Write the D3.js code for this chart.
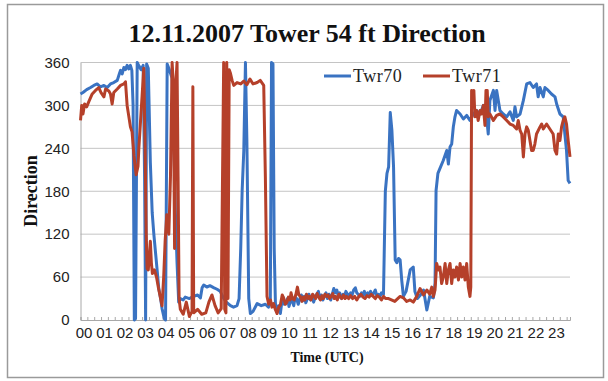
<!DOCTYPE html>
<html>
<head>
<meta charset="utf-8">
<script src="https://cdn.jsdelivr.net/npm/d3@7"></script>
<style>
  html, body { margin: 0; padding: 0; background: #fff; }
  svg { display: block; }
</style>
</head>
<body>
<svg id="chart" width="608" height="381"></svg>
<script>
// Tower 54 ft wind direction, 12 Nov 2007 (hours UTC, degrees)
const twr70Hours = [0.00,0.12,0.30,0.49,0.65,0.81,0.97,1.14,1.30,1.46,1.62,1.79,1.90,1.95,2.03,2.11,2.19,2.27,2.35,2.43,2.50,2.56,2.62,2.68,2.76,2.85,2.95,3.05,3.12,3.17,3.22,3.30,3.40,3.49,3.57,3.65,3.73,3.81,3.90,3.97,4.08,4.14,4.22,4.30,4.38,4.46,4.54,4.62,4.70,4.78,4.86,5.00,5.10,5.30,5.50,5.70,5.84,5.92,6.00,6.15,6.30,6.50,6.65,6.80,6.96,7.10,7.30,7.45,7.62,7.72,7.80,7.87,7.95,8.03,8.10,8.19,8.27,8.40,8.60,8.80,9.00,9.15,9.24,9.30,9.37,9.43,9.49,
  9.57,9.65,9.73,9.80,9.85,9.92,
  10.00,10.08,10.15,10.22,10.30,10.38,10.45,10.52,10.60,10.68,10.75,10.82,10.90,10.97,
  11.05,11.12,11.20,11.28,11.35,11.42,11.50,11.58,11.65,11.72,11.80,11.88,11.95,
  12.02,12.10,12.18,12.25,12.33,12.40,12.48,12.55,12.62,12.70,12.78,12.85,12.92,
  13.00,13.08,13.15,13.22,13.30,13.38,13.45,13.52,13.60,13.68,13.75,13.82,13.90,13.98,
  14.05,14.12,14.20,14.28,14.35,14.42,14.50,14.58,14.65,14.75,
  14.84,14.92,15.00,15.08,15.16,15.24,15.32,15.40,15.48,15.56,15.64,15.72,15.85,16.05,16.20,16.28,16.40,16.55,16.70,16.86,17.00,17.18,17.26,17.31,17.40,17.50,17.66,17.83,17.91,17.99,18.07,18.15,18.23,18.31,18.48,18.64,18.80,18.96,19.12,19.28,19.45,19.61,19.77,19.85,19.93,20.10,20.18,20.26,20.42,20.58,20.75,20.91,21.07,21.15,21.23,21.40,21.56,21.72,21.88,22.04,22.20,22.28,22.37,22.53,22.61,22.77,22.93,23.10,23.18,23.34,23.50,23.58,23.66,23.74,23.83];
const twr70Dir   = [316,318,322,325,328,330,326,328,325,330,332,335,345,349,344,353,350,356,351,356,349,300,0,2,360,355,350,356,200,0,358,352,220,150,120,95,70,44,30,16,2,0,358,352,345,338,260,150,80,25,30,28,32,30,33,35,31,45,49,46,48,45,43,40,31,25,20,18,20,30,100,181,237,360,250,30,9,12,23,20,22,18,25,360,358,100,23,
  12,20,9,25,33,22,
  25,30,19,26,28,20,32,30,22,30,35,27,33,24,
  30,36,28,33,25,31,36,40,30,35,28,34,38,
  30,36,28,35,44,38,42,33,38,30,36,33,40,
  36,33,38,35,42,45,38,36,33,38,35,40,33,38,
  36,40,34,38,42,34,36,33,38,36,
  180,205,214,290,265,214,84,80,86,84,55,33,40,70,74,40,30,35,42,14,33,31,51,181,205,212,223,237,218,242,246,270,284,293,288,281,286,279,288,293,288,300,284,260,307,321,293,321,293,288,284,291,279,298,284,288,307,330,332,325,330,312,325,312,325,321,316,312,302,288,284,260,237,195,191];

const twr71Hours = [0.00,0.06,0.12,0.20,0.30,0.40,0.57,0.73,0.89,1.00,1.14,1.22,1.38,1.46,1.54,1.62,1.79,1.95,2.11,2.19,2.27,2.35,2.43,2.51,2.60,2.71,2.80,2.84,2.92,3.00,3.08,3.14,3.20,3.24,3.30,3.40,3.45,3.50,3.60,3.70,3.80,3.90,3.97,4.05,4.12,4.20,4.30,4.38,4.46,4.52,4.58,4.64,4.70,4.75,4.80,4.86,5.00,5.15,5.30,5.43,5.47,5.51,5.70,5.90,6.10,6.25,6.40,6.55,6.70,6.85,6.97,7.02,7.08,7.12,7.18,7.24,7.30,7.38,7.46,7.62,7.80,7.95,8.10,8.25,8.40,8.60,8.75,8.92,9.00,
  9.08,9.16,9.25,9.32,9.40,9.48,9.57,9.65,9.73,9.82,9.90,9.98,
  10.05,10.12,10.20,10.25,10.32,10.40,10.48,10.56,10.63,10.70,10.78,10.85,10.92,
  11.00,11.08,11.15,11.22,11.30,11.38,11.45,11.52,11.60,11.68,11.75,11.82,11.90,11.98,
  12.05,12.12,12.20,12.28,12.35,12.42,12.50,12.58,12.65,12.72,12.80,12.88,12.95,
  13.05,13.15,13.25,13.35,13.45,13.55,13.65,13.75,13.85,13.95,
  14.05,14.15,14.25,14.35,14.45,14.55,14.65,14.75,14.85,15.00,
  15.30,15.56,15.72,15.88,16.05,16.20,16.37,16.53,16.70,16.86,17.00,17.10,17.18,17.26,17.34,17.42,17.50,17.58,17.66,17.75,17.83,17.91,17.99,18.07,18.15,18.23,18.31,18.40,18.48,18.56,18.64,18.72,18.80,18.88,18.96,19.00,19.04,19.12,19.15,19.20,19.28,19.36,19.45,19.53,19.61,19.69,19.74,19.80,19.85,19.93,20.10,20.26,20.42,20.58,20.75,20.91,21.07,21.23,21.31,21.40,21.48,21.56,21.64,21.72,21.80,21.88,21.96,22.04,22.12,22.20,22.37,22.45,22.53,22.69,22.85,23.01,23.10,23.18,23.26,23.34,23.42,23.50,23.58,23.66,23.74,23.83];
const twr71Dir   = [279,300,288,302,298,305,316,321,325,318,312,323,320,316,302,318,323,328,330,333,300,285,270,263,230,203,215,240,277,314,352,250,120,72,70,110,80,65,70,60,44,30,20,60,110,147,120,200,360,330,100,330,360,200,30,15,8,25,5,12,326,10,15,8,10,25,35,20,10,16,360,15,10,360,30,350,345,335,328,332,330,334,329,337,330,332,335,328,200,
  33,22,28,18,23,15,9,18,21,35,30,22,
  25,32,28,38,30,28,35,46,35,33,26,32,28,
  36,30,33,28,36,33,30,37,32,28,34,30,36,33,
  35,30,33,37,30,33,28,36,32,30,35,30,33,
  30,34,30,33,28,33,36,32,30,34,
  32,36,33,30,34,32,28,33,30,30,
  26,33,31,26,28,25,33,44,35,42,36,46,33,42,79,70,74,51,60,79,51,70,79,51,70,60,74,56,79,60,74,56,79,46,33,46,321,302,321,284,293,279,293,288,300,272,321,321,284,288,279,286,288,284,279,274,272,267,279,265,260,228,260,270,265,251,237,237,246,260,270,274,267,274,267,260,237,232,260,251,270,279,284,274,251,228];

const hourLabels = ["00","01","02","03","04","05","06","07","08","09","10","11","12","13","14","15","16","17","18","19","20","21","22","23"];
const dirTicks = [0, 60, 120, 180, 240, 300, 360];
const seriesNames = ["Twr70", "Twr71"];
const seriesColors = ["#3a73c2", "#b5402a"];

const svg = d3.select("#chart");

const plot = { left: 80.5, right: 570, top: 62.5, bottom: 320 };
const x = d3.scaleLinear().domain([0, 23.83]).range([plot.left, plot.right]);
const y = d3.scaleLinear().domain([0, 360]).range([plot.bottom, plot.top]);

// chart frame
svg.append("rect")
  .attr("x", 7.5).attr("y", 4.5).attr("width", 596).attr("height", 373)
  .attr("fill", "#fff").attr("stroke", "#9a9a9a").attr("stroke-width", 1.5);

// title
svg.append("text")
  .attr("x", 307).attr("y", 42)
  .attr("text-anchor", "middle")
  .attr("font-family", "'Liberation Serif', 'Times New Roman', serif")
  .attr("font-weight", "bold").attr("font-size", 26)
  .attr("fill", "#111")
  .text("12.11.2007 Tower 54 ft Direction");

// horizontal gridlines
svg.append("g").selectAll("line").data(dirTicks.filter(d => d > 0)).join("line")
  .attr("x1", plot.left).attr("x2", plot.right)
  .attr("y1", d => y(d)).attr("y2", d => y(d))
  .attr("stroke", "#c4c4c4").attr("stroke-width", 1);

// y axis
const yAxis = d3.axisLeft(y).tickValues(dirTicks).tickSize(0).tickPadding(11);
const gy = svg.append("g").attr("transform", `translate(${plot.left},0)`).call(yAxis);
gy.select(".domain").attr("stroke", "#a8a8a8");
gy.selectAll("text")
  .attr("font-family", "'Liberation Sans', Arial, sans-serif")
  .attr("font-size", 15).attr("fill", "#222");

// x axis: minor ticks plus hour labels
const minorTicks = d3.range(0, 23.84, 1 / 3);
const xAxis = d3.axisBottom(x).tickValues(minorTicks).tickSize(-3).tickFormat("");
const gx = svg.append("g").attr("transform", `translate(0,${plot.bottom})`).call(xAxis);
gx.select(".domain").attr("stroke", "#a8a8a8");
gx.selectAll(".tick line").attr("stroke", "#a8a8a8");

svg.append("g").selectAll("text").data(hourLabels).join("text")
  .attr("x", (d, i) => x(i) + 3.5)
  .attr("y", 338)
  .attr("text-anchor", "middle")
  .attr("font-family", "'Liberation Sans', Arial, sans-serif")
  .attr("font-size", 15).attr("fill", "#222")
  .text(d => d);

// axis titles
svg.append("text")
  .attr("x", 327).attr("y", 362)
  .attr("text-anchor", "middle")
  .attr("font-family", "'Liberation Serif', 'Times New Roman', serif")
  .attr("font-weight", "bold").attr("font-size", 14)
  .attr("fill", "#111")
  .text("Time (UTC)");

svg.append("text")
  .attr("transform", "translate(37,191) rotate(-90)")
  .attr("text-anchor", "middle")
  .attr("font-family", "'Liberation Serif', 'Times New Roman', serif")
  .attr("font-weight", "bold").attr("font-size", 18)
  .attr("fill", "#111")
  .text("Direction");

// series lines
const line = d3.line().x(d => x(d[0])).y(d => y(d[1]));
const series = [
  d3.zip(twr70Hours, twr70Dir),
  d3.zip(twr71Hours, twr71Dir)
];
svg.append("g").selectAll("path").data(series).join("path")
  .attr("d", line)
  .attr("fill", "none")
  .attr("stroke", (d, i) => seriesColors[i])
  .attr("stroke-width", 3)
  .attr("stroke-linejoin", "round");

// legend
const legendX = [324, 423];
const lg = svg.append("g").selectAll("g").data(seriesNames).join("g")
  .attr("transform", (d, i) => `translate(${legendX[i]},76)`);
lg.append("line")
  .attr("x1", 0).attr("x2", 27).attr("y1", 0).attr("y2", 0)
  .attr("stroke", (d, i) => seriesColors[i]).attr("stroke-width", 3);
lg.append("text")
  .attr("x", 29).attr("y", 6)
  .attr("font-family", "'Liberation Serif', 'Times New Roman', serif")
  .attr("font-size", 18).attr("letter-spacing", 0.5)
  .attr("fill", "#222")
  .text(d => d);
</script>
</body>
</html>
